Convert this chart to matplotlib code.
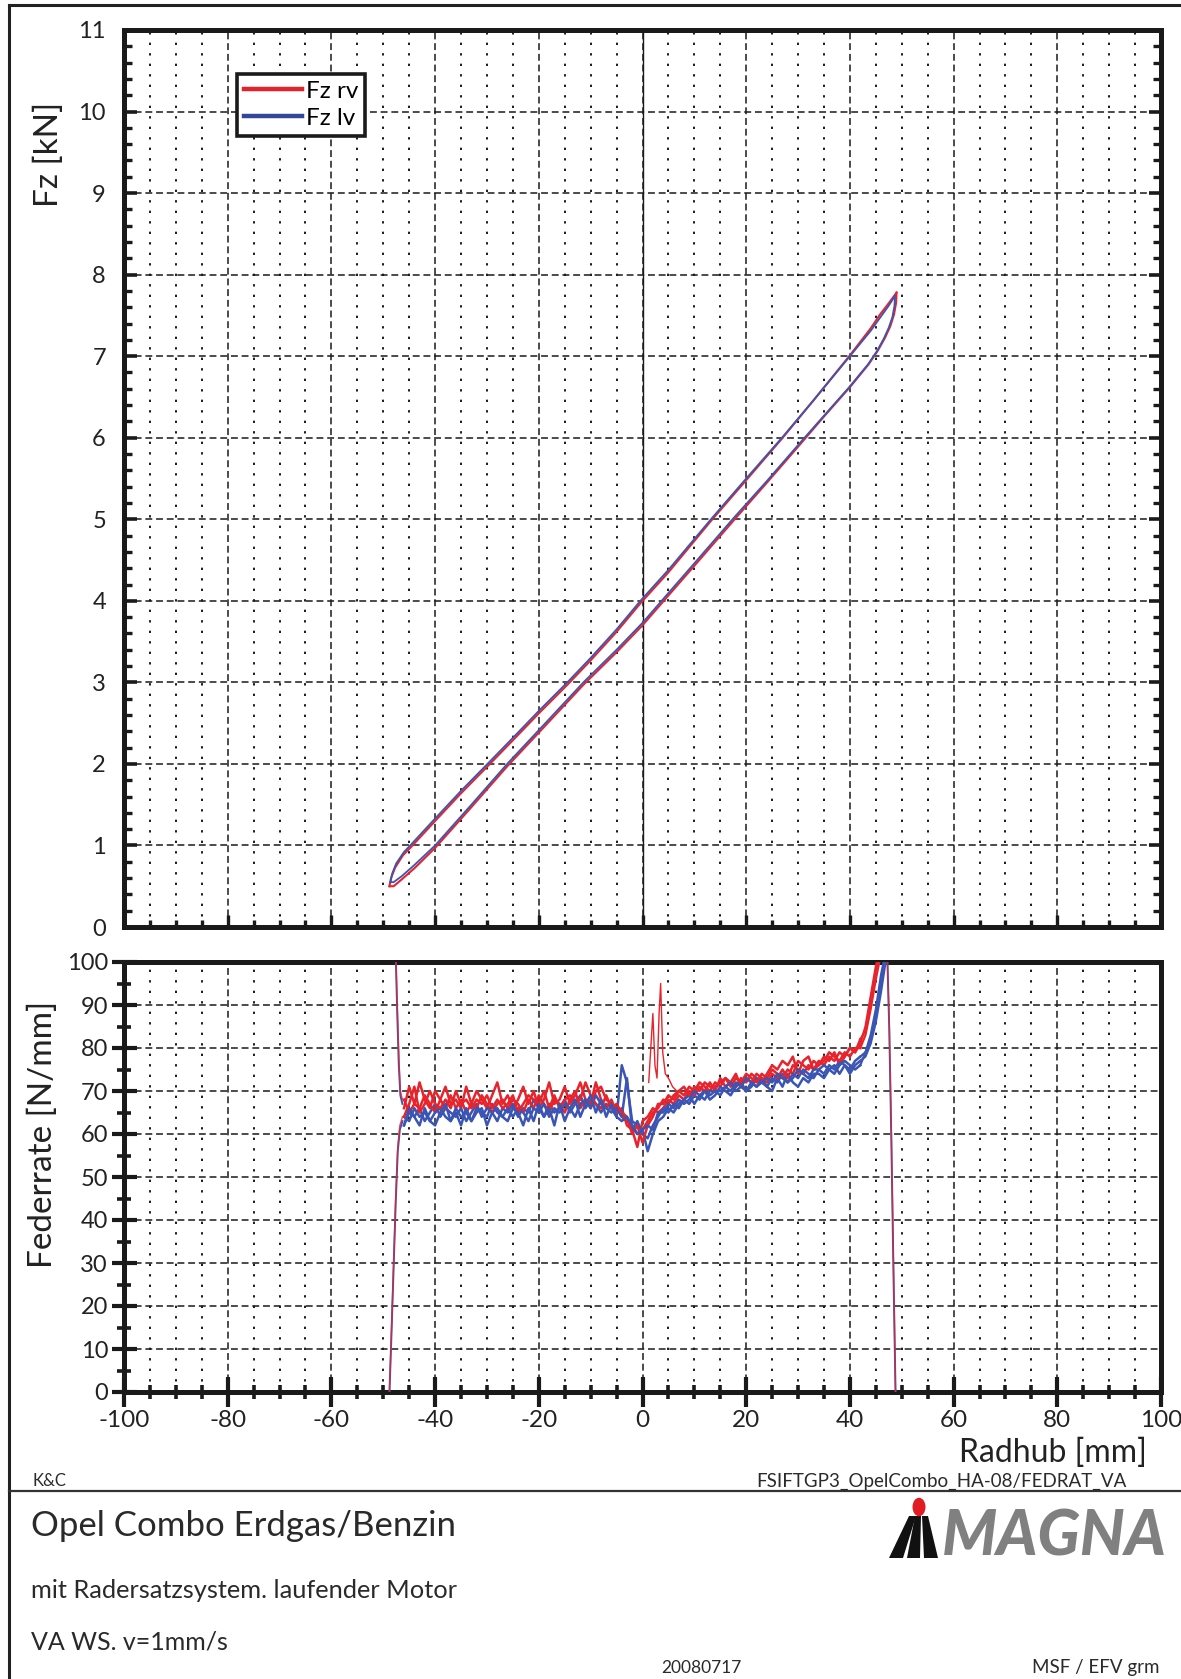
import matplotlib
matplotlib.use("Agg")
import matplotlib.pyplot as plt
from matplotlib.ticker import MultipleLocator
from matplotlib.patches import Polygon, Circle
from matplotlib.lines import Line2D

plt.rcParams["font.family"] = ["Lato", "DejaVu Sans"]
plt.rcParams["axes.unicode_minus"] = False

# ---------------- Fz over Radhub (hysteresis loop) ----------------
# loading branch (upper) and unloading branch (lower), Fz lv
LV_UP_X = [-48.6, -48.3, -47.5, -46.0, -44.8, -40.0, -35.0, -29.9, -25.0, -20.0, -14.5,
           -10.0, -5.0, -0.4, 5.0, 13.2, 20.0, 26.9, 33.0, 40.0, 44.0, 45.8, 47.5, 48.7]
LV_UP_Y = [0.55, 0.65, 0.78, 0.92, 1.00, 1.33, 1.67, 2.00, 2.32, 2.65, 3.00,
           3.30, 3.65, 4.00, 4.38, 5.00, 5.50, 6.00, 6.46, 7.00, 7.31, 7.47, 7.62, 7.74]
LV_DN_X = [48.7, 48.6, 48.2, 47.5, 46.5, 45.2, 43.5, 40.0, 35.0, 30.0, 24.0, 17.5, 10.0,
           4.1, 0.0, -5.0, -11.4, -18.0, -26.1, -33.0, -40.0, -44.0, -46.5, -48.0, -48.6]
LV_DN_Y = [7.74, 7.62, 7.48, 7.35, 7.21, 7.06, 6.90, 6.63, 6.27, 5.91, 5.47, 5.01, 4.46,
           4.03, 3.73, 3.40, 3.00, 2.55, 2.00, 1.50, 1.00, 0.76, 0.62, 0.55, 0.55]

# Fz rv
RV_UP_X = [-48.8, -48.5, -47.7, -46.2, -44.8, -40.0, -35.0, -29.9, -25.0, -20.0, -14.5,
           -10.0, -5.0, -0.4, 5.0, 13.2, 20.0, 26.9, 33.0, 40.0, 44.0, 45.8, 47.5, 49.0]
RV_UP_Y = [0.50, 0.60, 0.73, 0.88, 0.97, 1.30, 1.64, 1.97, 2.29, 2.62, 2.97,
           3.27, 3.62, 3.97, 4.35, 4.98, 5.48, 5.99, 6.46, 7.01, 7.34, 7.51, 7.65, 7.78]
RV_DN_X = [49.0, 48.9, 48.5, 47.8, 46.8, 45.4, 43.6, 40.0, 35.0, 30.0, 24.0, 17.5, 10.0,
           4.1, 0.0, -5.0, -11.4, -18.0, -26.1, -33.0, -40.0, -44.0, -46.5, -48.0, -48.8]
RV_DN_Y = [7.78, 7.65, 7.51, 7.37, 7.23, 7.07, 6.90, 6.62, 6.26, 5.89, 5.45, 4.98, 4.43,
           4.00, 3.70, 3.37, 2.97, 2.52, 1.97, 1.47, 0.97, 0.72, 0.58, 0.50, 0.50]

# ---------------- Federrate over Radhub ----------------
FED_X = list(range(-46, 43))

RED_A = [66, 71, 67, 72, 68, 66, 70, 68, 71, 67,
         68, 66, 71, 67, 70, 68, 66, 69, 72, 67,
         69, 66, 68, 71, 67, 70, 66, 68, 72, 67,
         68, 71, 67, 69, 72, 68, 66, 70, 71, 68,
         67, 66, 64, 63, 62, 60, 61, 63, 65, 66,
         68, 67, 69, 70, 69, 71, 70, 72, 71, 70,
         72, 71, 73, 72, 71, 73, 72, 74, 73, 72,
         74, 76, 75, 77, 76, 78, 74, 77, 78, 75,
         77, 76, 78, 77, 79, 78, 80, 79, 81]
RED_B = [68, 65, 67, 66, 69, 67, 65, 68, 66, 69,
         66, 68, 65, 67, 66, 69, 67, 65, 67, 68,
         66, 68, 67, 65, 68, 66, 69, 67, 65, 68,
         67, 65, 68, 70, 66, 68, 67, 72, 68, 66,
         68, 65, 66, 62, 61, 57, 63, 64, 66, 65,
         66, 68, 67, 69, 68, 70, 69, 71, 70, 72,
         70, 73, 71, 72, 74, 71, 73, 72, 74, 73,
         72, 74, 73, 75, 73, 76, 75, 74, 76, 75,
         76, 78, 77, 79, 76, 78, 80, 79, 82]
RED_C = [64, 67, 71, 65, 67, 70, 67, 66, 68, 66,
         70, 67, 68, 66, 68, 67, 69, 66, 68, 66,
         67, 69, 65, 67, 69, 68, 67, 70, 66, 69,
         66, 68, 69, 67, 68, 72, 69, 67, 66, 69,
         66, 67, 65, 64, 60, 62, 58, 62, 64, 67,
         67, 69, 68, 70, 71, 69, 71, 70, 72, 71,
         71, 72, 73, 71, 73, 72, 74, 73, 72, 74,
         73, 75, 74, 73, 75, 74, 77, 76, 75, 77,
         76, 77, 79, 78, 77, 79, 78, 80, 80]
BLUE_A = [62, 65, 64, 66, 63, 65, 67, 64, 66, 65,
          64, 66, 63, 65, 67, 64, 66, 65, 63, 66,
          65, 67, 64, 66, 65, 68, 66, 64, 67, 65,
          66, 68, 65, 67, 69, 66, 68, 67, 65, 67,
          66, 64, 76, 72, 63, 62, 61, 56, 60, 63,
          64, 66, 65, 67, 68, 67, 69, 68, 70, 69,
          70, 69, 71, 70, 72, 71, 70, 72, 71, 73,
          71, 70, 73, 71, 74, 72, 71, 73, 72, 74,
          74, 73, 75, 76, 74, 76, 75, 77, 78]
BLUE_B = [64, 63, 66, 64, 65, 63, 65, 66, 64, 63,
          66, 64, 65, 63, 66, 65, 64, 67, 65, 64,
          66, 64, 66, 65, 63, 66, 65, 67, 64, 66,
          65, 67, 66, 64, 67, 68, 66, 69, 67, 66,
          65, 66, 64, 73, 61, 63, 60, 59, 62, 64,
          66, 65, 67, 66, 68, 69, 67, 69, 70, 68,
          69, 71, 70, 69, 71, 72, 70, 71, 73, 72,
          71, 73, 72, 74, 72, 73, 75, 74, 73, 75,
          75, 74, 76, 75, 77, 76, 74, 76, 77]
BLUE_C = [62, 66, 64, 62, 66, 63, 62, 65, 67, 63,
          65, 62, 66, 63, 65, 66, 62, 65, 66, 64,
          63, 66, 65, 62, 66, 63, 67, 64, 66, 62,
          67, 63, 66, 68, 64, 67, 69, 65, 68, 64,
          67, 64, 63, 64, 62, 60, 61, 62, 61, 65,
          65, 67, 66, 68, 67, 68, 70, 69, 68, 70,
          70, 70, 71, 72, 70, 71, 73, 72, 71, 72,
          73, 72, 74, 73, 72, 74, 73, 75, 74, 73,
          75, 76, 75, 74, 76, 77, 76, 75, 76]

# steep rise at the end of travel
RED_RISE_X = [42, 43, 44, 45, 46]
RED_RISE = [[81, 85, 92, 99, 104], [82, 84, 90, 97, 103], [80, 83, 89, 96, 102]]
BLUE_RISE_X = [42, 43, 44, 45, 46, 47]
BLUE_RISE = [[78, 79, 82, 88, 95, 102], [77, 78, 81, 86, 93, 101], [76, 79, 83, 89, 97, 103]]

# near-vertical flanks at the turning points
LEFT_RISE_X = [-48.8, -48.4, -48.0, -47.6, -47.2, -46.8, -46.3]
LEFT_RISE_R = [0, 15, 30, 45, 57, 62, 64]
LEFT_RISE_B = [0, 14, 29, 44, 56, 61, 63]
LEFT_DROP_X = [-47.6, -47.3, -47.0, -46.7, -46.3]
LEFT_DROP_R = [102, 90, 78, 70, 68]
LEFT_DROP_B = [102, 88, 76, 69, 67]
RIGHT_DROP_X = [47.2, 47.6, 48.0, 48.4, 48.8]
RIGHT_DROP_R = [102, 85, 60, 30, 0]
RIGHT_DROP_B = [102, 84, 58, 28, 0]

# single red disturbance just right of zero
RED_SPIKE_X = [1.2, 1.6, 2.0, 2.4, 2.8, 3.2, 3.5, 3.9, 4.4, 5.0, 5.8, 6.6]
RED_SPIKE_Y = [72, 80, 88, 76, 73, 88, 95, 79, 74, 73, 71, 70]

RED = "#e8232c"
BLUE = "#3a55b4"
LEG_RED = "#e3222b"
LEG_BLUE = "#33479a"
INK = "#1a1a1a"

W_PX, H_PX = 1181, 1679
fig = plt.figure(figsize=(W_PX / 100, H_PX / 100), dpi=100)


def fx(px):
    return px / W_PX


def fy(py):
    return 1 - py / H_PX


AX_L, AX_R = 124, 1161
ax1 = fig.add_axes([fx(AX_L), fy(927), fx(AX_R - AX_L), (927 - 30) / H_PX])
ax2 = fig.add_axes([fx(AX_L), fy(1392), fx(AX_R - AX_L), (1392 - 962) / H_PX])

DASH = (0, (4.5, 2.5))
DOT = (0, (1.2, 4.2))

for ax in (ax1, ax2):
    ax.set_xlim(-100, 100)
    ax.xaxis.set_major_locator(MultipleLocator(20))
    ax.xaxis.set_minor_locator(MultipleLocator(5))
    ax.grid(which="major", color=INK, linestyle=DASH, linewidth=1.1)
    ax.grid(which="minor", axis="x", color=INK, linestyle=DOT, linewidth=1.4)
    ax.set_axisbelow(True)
    for sp in ax.spines.values():
        sp.set_linewidth(3.6)
        sp.set_color(INK)

# ---- upper plot ----
ax1.set_ylim(0, 11)
ax1.yaxis.set_major_locator(MultipleLocator(1))
ax1.yaxis.set_minor_locator(MultipleLocator(0.2))
ax1.tick_params(axis="x", which="both", direction="in", labelbottom=False,
                bottom=True, top=False, color=INK)
ax1.tick_params(axis="x", which="major", length=9, width=2.4)
ax1.tick_params(axis="x", which="minor", length=5, width=2.4)
ax1.tick_params(axis="y", which="both", direction="in", left=True, right=True,
                color=INK, labelsize=17, pad=13, labelcolor="#222222")
ax1.tick_params(axis="y", which="major", length=9, width=2.6)
ax1.tick_params(axis="y", which="minor", length=6, width=2.4)
ax1.axvline(0, color=INK, linewidth=1.0, zorder=1.5)

ax1.plot(RV_UP_X, RV_UP_Y, color=RED, linewidth=1.5, zorder=3)
ax1.plot(RV_DN_X, RV_DN_Y, color=RED, linewidth=1.5, zorder=3)
ax1.plot(LV_UP_X, LV_UP_Y, color=BLUE, linewidth=1.3, zorder=4)
ax1.plot(LV_DN_X, LV_DN_Y, color=BLUE, linewidth=1.3, zorder=4)
ax1.set_ylabel("Fz [kN]", fontsize=24, color="#222222")
ax1.yaxis.set_label_coords(-0.058, 0.861)

handles = [Line2D([], [], color=LEG_RED, linewidth=3.2),
           Line2D([], [], color=LEG_BLUE, linewidth=3.2)]
leg = ax1.legend(handles, ["Fz rv", "Fz lv"], loc="upper left",
                 bbox_to_anchor=((237 - AX_L) / (AX_R - AX_L), (927 - 74) / 897),
                 borderaxespad=0, fancybox=False, framealpha=1, edgecolor=INK,
                 fontsize=17.5, handlelength=2.4, handletextpad=0.15,
                 borderpad=0.28, labelspacing=0.25)
leg.get_frame().set_linewidth(2.6)

# ---- lower plot ----
ax2.set_ylim(0, 100)
ax2.yaxis.set_major_locator(MultipleLocator(10))
ax2.yaxis.set_minor_locator(MultipleLocator(5))
ax2.tick_params(axis="both", which="both", direction="inout", color=INK,
                labelcolor="#222222", top=False, right=False)
ax2.tick_params(axis="x", which="major", length=22, width=3.0, labelsize=17.5, pad=2)
ax2.tick_params(axis="x", which="minor", length=10, width=2.6)
ax2.tick_params(axis="y", which="major", length=18, width=3.0, labelsize=17, pad=2.5)
ax2.tick_params(axis="y", which="minor", length=10, width=2.6)

for r, b in zip((RED_A, RED_B, RED_C), (BLUE_A, BLUE_B, BLUE_C)):
    ax2.plot(FED_X, r, color=RED, linewidth=1.8, zorder=3)
    ax2.plot(FED_X, b, color=BLUE, linewidth=1.8, zorder=3)
for ry in RED_RISE:
    ax2.plot(RED_RISE_X, ry, color=RED, linewidth=1.6, zorder=3)
for by in BLUE_RISE:
    ax2.plot(BLUE_RISE_X, by, color=BLUE, linewidth=1.6, zorder=3)
ax2.plot(RED_SPIKE_X, RED_SPIKE_Y, color=RED, linewidth=1.0, zorder=3)
ax2.plot(LEFT_RISE_X, LEFT_RISE_B, color=BLUE, linewidth=1.4, zorder=3)
ax2.plot(LEFT_RISE_X, LEFT_RISE_R, color=RED, linewidth=1.0, alpha=0.8, zorder=3)
ax2.plot(LEFT_DROP_X, LEFT_DROP_B, color=BLUE, linewidth=1.4, zorder=3)
ax2.plot(LEFT_DROP_X, LEFT_DROP_R, color=RED, linewidth=1.0, alpha=0.8, zorder=3)
ax2.plot(RIGHT_DROP_X, RIGHT_DROP_B, color=BLUE, linewidth=1.4, zorder=3)
ax2.plot(RIGHT_DROP_X, RIGHT_DROP_R, color=RED, linewidth=1.0, alpha=0.8, zorder=3)

ax2.set_ylabel("Federrate [N/mm]", fontsize=24, color="#222222")
ax2.yaxis.set_label_coords(-0.064, 0.598)

fig.text(fx(1147), fy(1453), "Radhub [mm]", fontsize=23, color="#222222",
         ha="right", va="center")

# ---------------- page frame and title block ----------------
frame_kw = dict(color="#222222", linewidth=2.2, transform=fig.transFigure)
fig.add_artist(Line2D([fx(9), fx(9)], [fy(5), 0], **frame_kw))
fig.add_artist(Line2D([fx(9), 1], [fy(5), fy(5)], **frame_kw))
fig.add_artist(Line2D([fx(9), 1], [fy(1491), fy(1491)], color="#333333",
                      linewidth=1.6, transform=fig.transFigure))

txt = "#2a2a2a"
fig.text(fx(32), fy(1481), "K&C", fontsize=12, color=txt, va="center")
fig.text(fx(1127), fy(1481), "FSIFTGP3_OpelCombo_HA-08/FEDRAT_VA", fontsize=13.5,
         color=txt, ha="right", va="center")
fig.text(fx(31), fy(1526), "Opel Combo Erdgas/Benzin", fontsize=25, color=txt,
         va="center")
fig.text(fx(31), fy(1591), "mit Radersatzsystem. laufender Motor", fontsize=18.3,
         color=txt, va="center")
fig.text(fx(31), fy(1642), "VA WS. v=1mm/s", fontsize=18, color=txt, va="center")
fig.text(fx(701), fy(1668), "20080717", fontsize=12.5, color=txt, ha="center",
         va="center")
fig.text(fx(1160), fy(1668), "MSF / EFV grm", fontsize=13.5, color=txt, ha="right",
         va="center")

# company mark: three slanted bars with a red dot and the word mark
bars = [
    [(889, 1558), (903, 1558), (916, 1516), (909, 1516)],
    [(907, 1558), (920, 1558), (921, 1516), (915, 1516)],
    [(924, 1558), (938, 1558), (928, 1516), (922, 1516)],
]
for pts in bars:
    fig.add_artist(Polygon([(fx(x), fy(y)) for x, y in pts], closed=True,
                           facecolor="#111111", edgecolor="none",
                           transform=fig.transFigure))
fig.add_artist(Circle((fx(919), fy(1507)), 6.5 / W_PX, facecolor="#e01b24",
                      edgecolor="none", transform=fig.transFigure))
fig.text(fx(942), fy(1537), "MAGNA", fontsize=45, fontweight="black",
         fontstyle="italic", color="#808080", va="center", ha="left")

fig.savefig("out.png", dpi=100)
